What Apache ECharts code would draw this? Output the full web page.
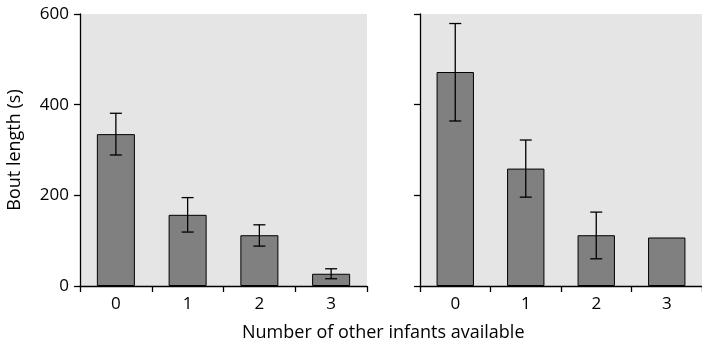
<!DOCTYPE html>
<html>
<head>
<meta charset="utf-8">
<script src="https://cdn.jsdelivr.net/npm/echarts@6/dist/echarts.min.js"></script>
<style>
  html, body { margin: 0; padding: 0; background: #fff; }
  #main { width: 702px; height: 347px; }
</style>
</head>
<body>
<div id="main"></div>
<script>
var categories = ['0', '1', '2', '3'];
// left panel
var leftMeans = [335, 157, 112, 27];
var leftLow = [289, 119, 88, 16];
var leftHigh = [381, 195, 135, 38];
// right panel (last bar has no error bar)
var rightMeans = [472, 259, 112, 107];
var rightLow = [364, 196, 60, null];
var rightHigh = [579, 322, 163, null];

var font = '"Open Sans", "Noto Sans", sans-serif';

function errData(low, high) {
    var out = [];
    for (var i = 0; i < low.length; i++) {
        if (low[i] != null) out.push([i, low[i], high[i]]);
    }
    return out;
}

function renderErr(params, api) {
    var x = api.value(0);
    var lo = api.coord([x, api.value(1)]);
    var hi = api.coord([x, api.value(2)]);
    var half = 6;
    var style = { stroke: '#000', lineWidth: 1.3 };
    return {
        type: 'group',
        children: [
            { type: 'line', shape: { x1: lo[0], y1: lo[1], x2: hi[0], y2: hi[1] }, style: style },
            { type: 'line', shape: { x1: hi[0] - half, y1: hi[1], x2: hi[0] + half, y2: hi[1] }, style: style },
            { type: 'line', shape: { x1: lo[0] - half, y1: lo[1], x2: lo[0] + half, y2: lo[1] }, style: style }
        ]
    };
}

function xAxisOf(idx) {
    return {
        type: 'category', gridIndex: idx, data: categories,
        axisLine: { lineStyle: { color: '#000', width: 1.3 } },
        axisTick: { show: true, length: 6, lineStyle: { color: '#000', width: 1.3 } },
        axisLabel: { color: '#000', fontSize: 17, fontFamily: font, margin: 10 }
    };
}

function yAxisOf(idx, labels) {
    return {
        type: 'value', gridIndex: idx, min: 0, max: 600, interval: 200,
        name: labels ? 'Bout length (s)' : '',
        nameLocation: 'middle', nameGap: 56,
        nameTextStyle: { color: '#000', fontSize: 18, fontFamily: font },
        axisLine: { show: true, lineStyle: { color: '#000', width: 1.3 } },
        axisTick: { show: true, length: 6, lineStyle: { color: '#000', width: 1.3 } },
        axisLabel: { show: labels, color: '#000', fontSize: 17, fontFamily: font, margin: 11 },
        splitLine: { show: false }
    };
}

var chart = echarts.init(document.getElementById('main'));
var option = {
    backgroundColor: '#fff',
    animation: false,
    grid: [
        { left: 80, top: 14, width: 287, height: 272, show: true, backgroundColor: '#e5e5e5', borderWidth: 0 },
        { left: 420, top: 14, width: 287, height: 272, show: true, backgroundColor: '#e5e5e5', borderWidth: 0 }
    ],
    xAxis: [xAxisOf(0), xAxisOf(1)],
    yAxis: [yAxisOf(0, true), yAxisOf(1, false)],
    graphic: [{
        type: 'text', left: 242, top: 324,
        style: { text: 'Number of other infants available', fill: '#000', fontSize: 18, fontFamily: font }
    }],
    series: [
        {
            type: 'bar', xAxisIndex: 0, yAxisIndex: 0, data: leftMeans, barWidth: '53%',
            itemStyle: { color: '#808080', borderColor: '#000', borderWidth: 1 }
        },
        {
            type: 'custom', xAxisIndex: 0, yAxisIndex: 0, data: errData(leftLow, leftHigh),
            renderItem: renderErr, z: 5
        },
        {
            type: 'bar', xAxisIndex: 1, yAxisIndex: 1, data: rightMeans, barWidth: '53%',
            itemStyle: { color: '#808080', borderColor: '#000', borderWidth: 1 }
        },
        {
            type: 'custom', xAxisIndex: 1, yAxisIndex: 1, data: errData(rightLow, rightHigh),
            renderItem: renderErr, z: 5
        }
    ]
};
chart.setOption(option);
</script>
</body>
</html>
